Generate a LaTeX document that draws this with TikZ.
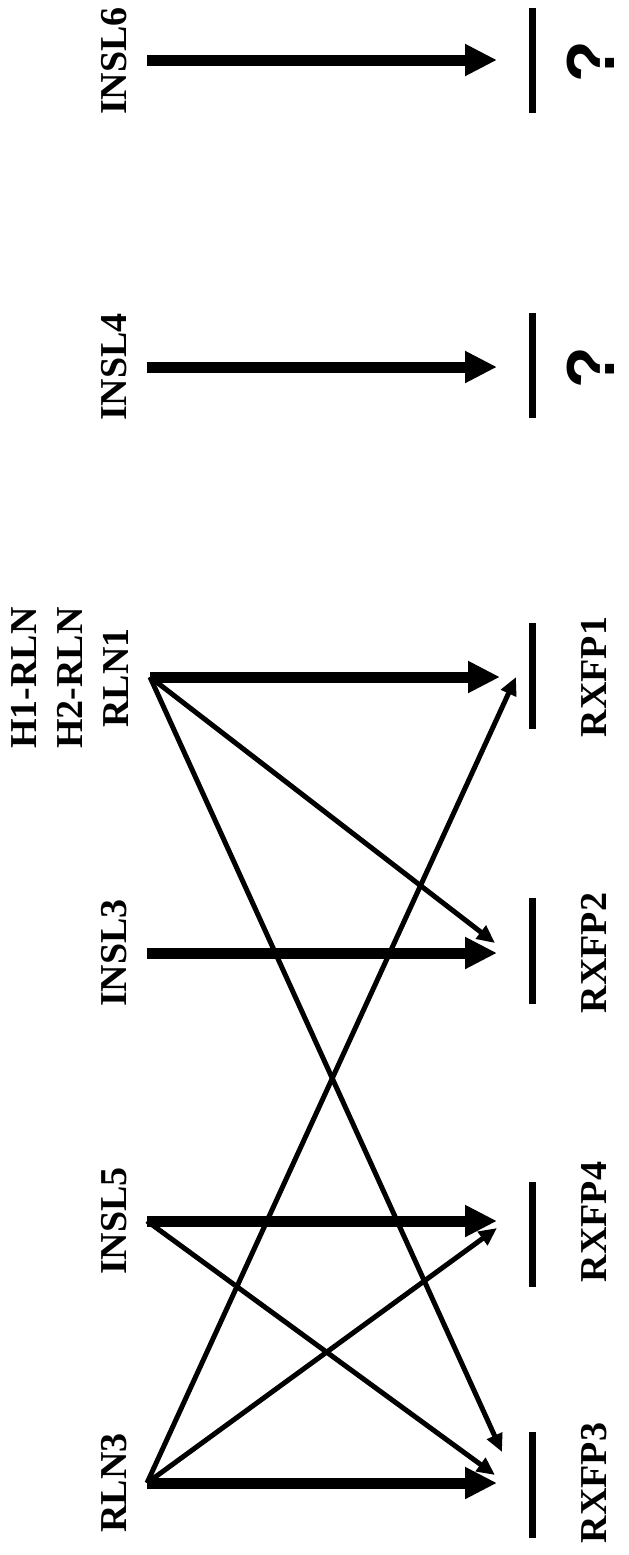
\documentclass[tikz,border=0pt]{standalone}
\usepackage{fontspec}
\setmainfont{Liberation Serif}
\newfontfamily\qfont{Liberation Sans}
\usetikzlibrary{arrows.meta}
\tikzset{
  lab/.style={rotate=90, font=\fontsize{19}{23}\selectfont\bfseries, inner sep=0pt, align=center},
  qmark/.style={rotate=90, font=\qfont\fontsize{34}{38}\selectfont\bfseries, inner sep=0pt},
  thickarr/.style={line width=5.5pt, -{Triangle[length=16pt,width=15pt]}},
  thinarr/.style={line width=2.5pt, -{Triangle[length=9pt,width=8pt]}},
  barline/.style={line width=3.5pt}
}
\begin{document}
\begin{tikzpicture}[x=0.5pt,y=-0.5pt]
\useasboundingbox (0,0) rectangle (628,1555);
% left labels
\node[lab] (lINSL6) at (114,61) {INSL6};
\node[lab] (lINSL4) at (114,367) {INSL4};
\node[lab] (lRLN1) at (70,678) {H1-RLN\\H2-RLN\\RLN1};
\node[lab] (lINSL3) at (114,953) {INSL3};
\node[lab] (lINSL5) at (114,1221) {INSL5};
\node[lab] (lRLN3) at (114,1483) {RLN3};
% right labels
\node[qmark] (q6) at (591,62) {?};
\node[qmark] (q4) at (591,368) {?};
\node[lab] (rRXFP1) at (594,677) {RXFP1};
\node[lab] (rRXFP2) at (594,953) {RXFP2};
\node[lab] (rRXFP4) at (594,1222) {RXFP4};
\node[lab] (rRXFP3) at (594,1483) {RXFP3};
% start coordinates
\coordinate (sINSL6) at (147,60);
\coordinate (sINSL4) at (147,367);
\coordinate (sRLN1) at (150,677);
\coordinate (sINSL3) at (147,953);
\coordinate (sINSL5) at (147,1221);
\coordinate (sRLN3) at (147,1483);
% tips
\coordinate (t6) at (497,60);
\coordinate (t4) at (497,367);
\coordinate (t1) at (500,677);
\coordinate (t2) at (497,953);
\coordinate (t4b) at (497,1221);
\coordinate (t3) at (497,1483);
% bars
\coordinate (b6a) at (532,8);  \coordinate (b6b) at (532,113);
\coordinate (b4a) at (532,313); \coordinate (b4b) at (532,418);
\coordinate (b1a) at (532,623); \coordinate (b1b) at (532,729);
\coordinate (b2a) at (532,898); \coordinate (b2b) at (532,1004);
\coordinate (bxa) at (532,1182); \coordinate (bxb) at (532,1287);
\coordinate (b3a) at (532,1432); \coordinate (b3b) at (532,1538);
\draw[barline] (b6a) -- (b6b);
\draw[barline] (b4a) -- (b4b);
\draw[barline] (b1a) -- (b1b);
\draw[barline] (b2a) -- (b2b);
\draw[barline] (bxa) -- (bxb);
\draw[barline] (b3a) -- (b3b);
% thick arrows
\draw[thickarr] (sINSL6) -- (t6);
\draw[thickarr] (sINSL4) -- (t4);
\draw[thickarr] (sRLN1) -- (t1);
\draw[thickarr] (sINSL3) -- (t2);
\draw[thickarr] (sINSL5) -- (t4b);
\draw[thickarr] (sRLN3) -- (t3);
% thin arrow tips
\coordinate (u2) at (495,943);
\coordinate (u3a) at (502,1452);
\coordinate (u1) at (516,677);
\coordinate (u4) at (497,1228);
\coordinate (u3b) at (495,1475);
\draw[thinarr] (sRLN1) -- (u2);
\draw[thinarr] (sRLN1) -- (u3a);
\draw[thinarr] (sRLN3) -- (u1);
\draw[thinarr] (sRLN3) -- (u4);
\draw[thinarr] (sINSL5) -- (u3b);
\end{tikzpicture}
\end{document}
